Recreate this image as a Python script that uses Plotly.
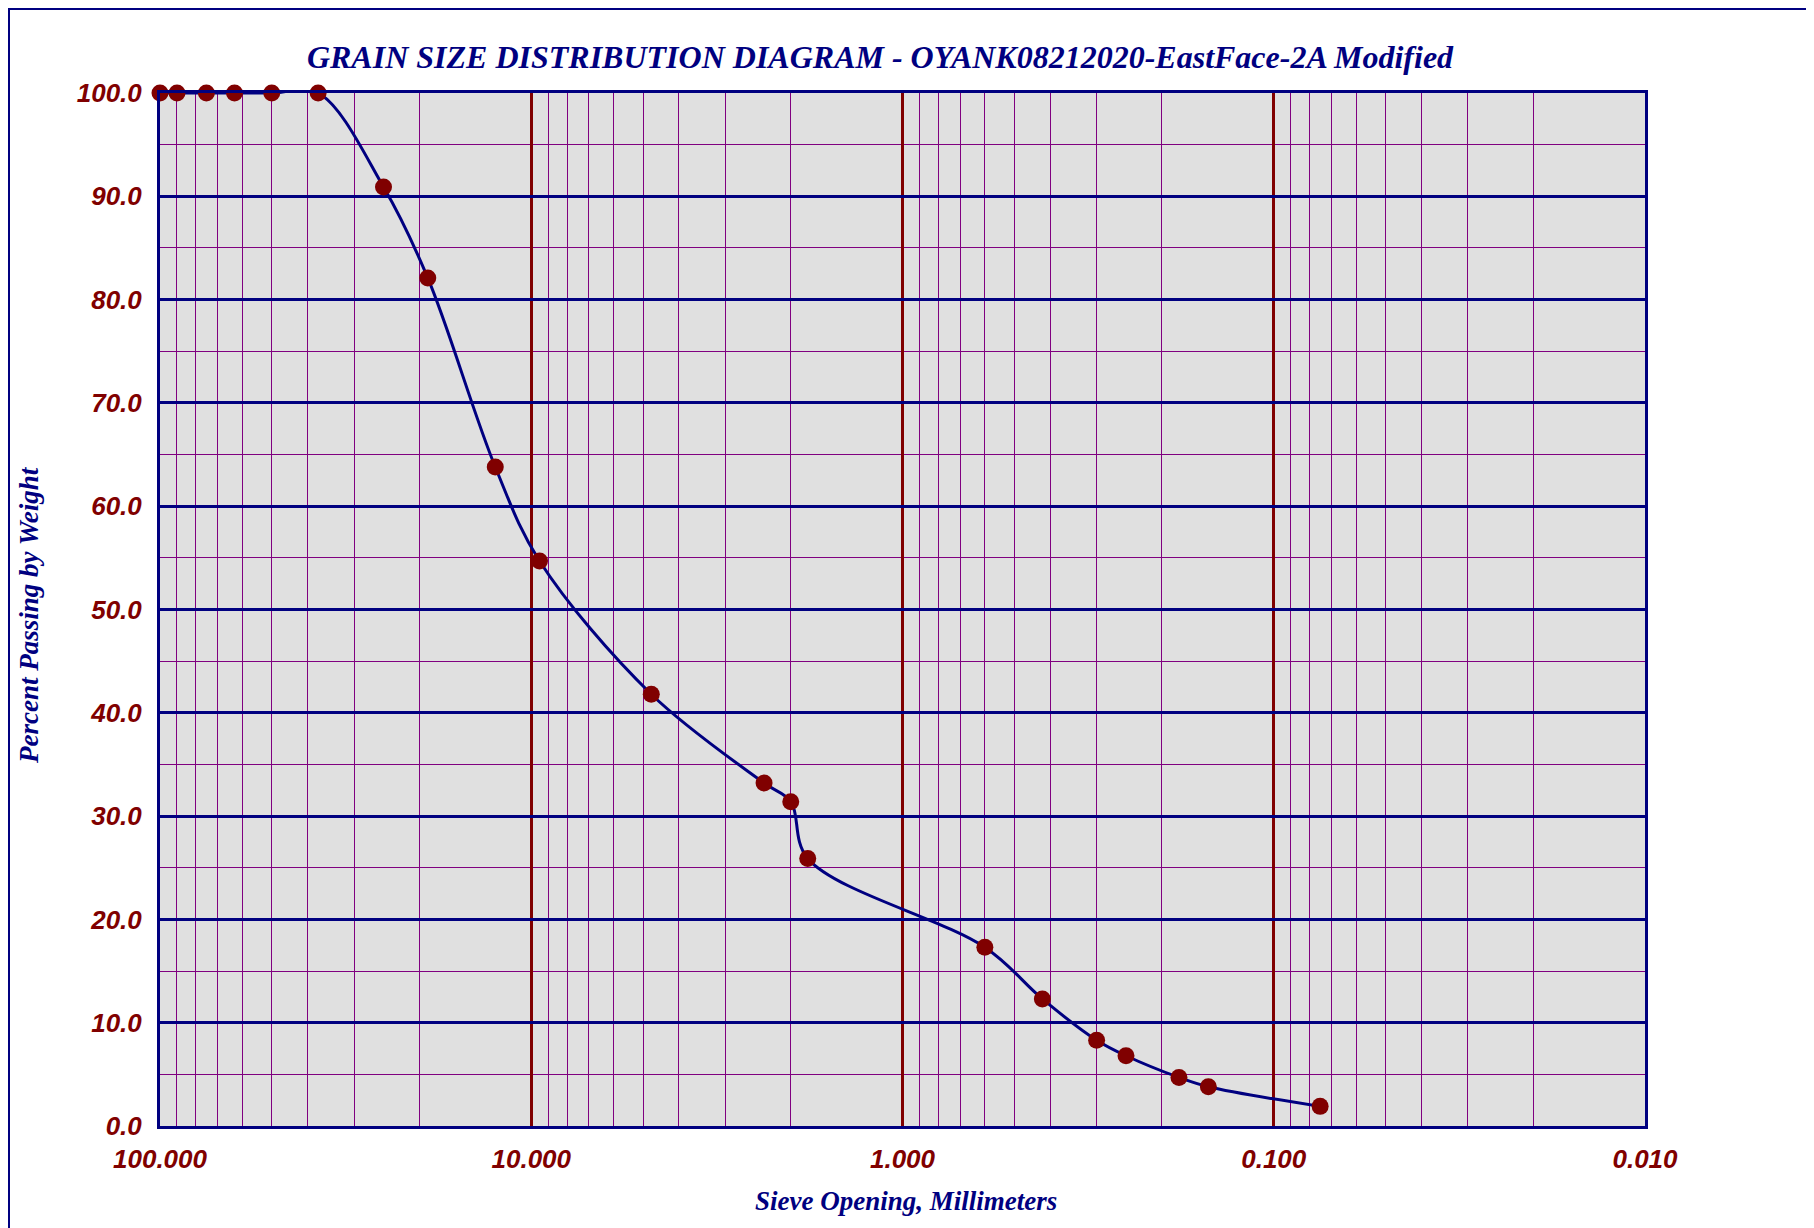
import plotly.graph_objects as go

# Sieve openings (mm) and percent passing
sieve_mm = [100, 90, 75, 63, 50, 37.5, 25, 19, 12.5, 9.5, 4.75, 2.36, 2.0, 1.8,
            0.6, 0.42, 0.30, 0.25, 0.18, 0.15, 0.075]
percent_passing = [100.0, 100.0, 100.0, 100.0, 100.0, 100.0, 90.9, 82.1, 63.8, 54.7,
                   41.8, 33.2, 31.4, 25.9, 17.3, 12.3, 8.3, 6.8, 4.7, 3.8, 1.9]

x_major_ticks = [100, 10, 1, 0.1, 0.01]
y_major_ticks = [0, 10, 20, 30, 40, 50, 60, 70, 80, 90, 100]

title_text = "GRAIN SIZE DISTRIBUTION DIAGRAM - OYANK08212020-EastFace-2A Modified"
x_title = "Sieve Opening, Millimeters"
y_title = "Percent Passing by Weight"

NAVY = "#000080"
MAROON = "#800000"
PURPLE = "#800080"

x_minor = [m * d for d in (0.01, 0.1, 1, 10) for m in range(2, 10)]
y_minor = [v + 5 for v in y_major_ticks[:-1]]

W, H = 1800, 1230
L, R, T, B = 152, 163, 85, 112
PW, PH = W - L - R, H - T - B

fig = go.Figure()
fig.add_trace(go.Scatter(
    x=sieve_mm, y=percent_passing, mode="lines+markers",
    line=dict(color=NAVY, width=3, shape="spline", smoothing=1.0),
    marker=dict(color=MAROON, size=17),
    cliponaxis=False, showlegend=False,
))

tickfont = dict(family="Liberation Sans, Arial", size=26, color=MAROON, weight="bold", style="italic")
serif_bi = dict(family="Liberation Serif, Times New Roman", color=NAVY, weight="bold", style="italic")

fig.update_layout(
    width=W, height=H,
    margin=dict(l=L, r=R, t=T, b=B),
    paper_bgcolor="white", plot_bgcolor="#e0e0e0",
    title=dict(text=title_text, x=872 / W, xanchor="center", y=1 - 49 / H, yanchor="middle",
               font=dict(size=32, **serif_bi)),
    xaxis=dict(type="log", range=[2, -2], tickvals=x_major_ticks, tickformat=".3f",
               showgrid=True, gridcolor=MAROON, gridwidth=2.5,
               minor=dict(tickvals=x_minor, showgrid=True, gridcolor=PURPLE, gridwidth=1, ticks=""),
               showline=True, mirror=True, linecolor=NAVY, linewidth=3,
               ticks="outside", ticklen=8, tickcolor="rgba(0,0,0,0)",
               tickfont=tickfont, zeroline=False),
    yaxis=dict(range=[0, 100], tickvals=y_major_ticks, tickformat=".1f",
               showgrid=True, gridcolor=NAVY, gridwidth=3,
               minor=dict(tickvals=y_minor, showgrid=True, gridcolor=PURPLE, gridwidth=1, ticks=""),
               showline=True, mirror=True, linecolor=NAVY, linewidth=3,
               ticks="outside", ticklen=10, tickcolor="rgba(0,0,0,0)",
               tickfont=tickfont, zeroline=False),
)

fig.add_annotation(text=x_title, xref="paper", yref="paper", x=0.5024, y=-0.0726,
                   showarrow=False, xanchor="center", yanchor="middle",
                   font=dict(size=27, **serif_bi))
fig.add_annotation(text=y_title, xref="paper", yref="paper", x=-0.0882, y=0.4947,
                   showarrow=False, xanchor="center", yanchor="middle", textangle=-90,
                   font=dict(size=27, **serif_bi))

# outer frame along the figure edges
fig.add_shape(type="rect", xref="paper", yref="paper",
              x0=-L / PW, x1=(W - L) / PW,
              y0=-(B + 40) / PH, y1=(PH + T) / PH,
              line=dict(color=NAVY, width=4), layer="below")

fig.write_html("out.html")
